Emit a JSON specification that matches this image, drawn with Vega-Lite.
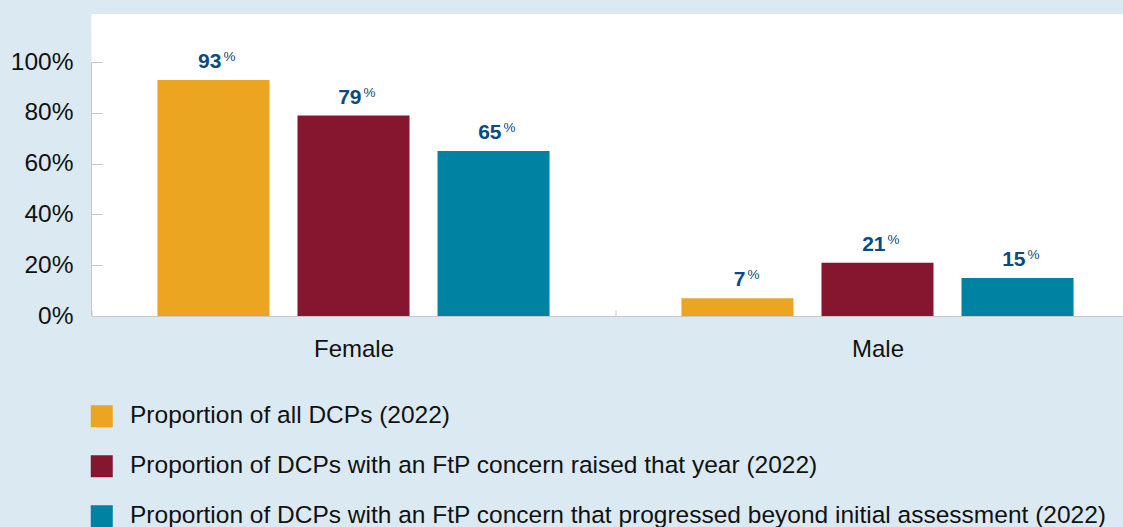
{
  "$schema": "https://vega.github.io/schema/vega-lite/v6.json",
  "width": 1048,
  "height": 302,
  "autosize": {"type": "none"},
  "padding": {"left": 91.5, "top": 14, "right": 0, "bottom": 211},
  "background": "#dbeaf2",
  "view": {"fill": "white", "stroke": null},
  "config": {"font": "Liberation Sans"},
  "data": {
    "values": [
      {"gender": "Female", "series": "Proportion of all DCPs (2022)", "value": 93},
      {"gender": "Female", "series": "Proportion of DCPs with an FtP concern raised that year (2022)", "value": 79},
      {"gender": "Female", "series": "Proportion of DCPs with an FtP concern that progressed beyond initial assessment (2022)", "value": 65},
      {"gender": "Male", "series": "Proportion of all DCPs (2022)", "value": 7},
      {"gender": "Male", "series": "Proportion of DCPs with an FtP concern raised that year (2022)", "value": 21},
      {"gender": "Male", "series": "Proportion of DCPs with an FtP concern that progressed beyond initial assessment (2022)", "value": 15}
    ]
  },
  "encoding": {
    "x": {
      "field": "gender", "type": "nominal",
      "scale": {"paddingInner": 0, "paddingOuter": 0},
      "axis": {
        "title": null, "labelAngle": 0, "labelFontSize": 24, "labelColor": "#111111",
        "domainColor": "#c8c8c8", "tickColor": "#c8c8c8", "tickBand": "extent",
        "tickSize": -6, "labelPadding": 27
      }
    }
  },
  "layer": [
    {
      "mark": {"type": "bar"},
      "encoding": {
        "xOffset": {"field": "series", "type": "nominal", "sort": null, "scale": {"paddingInner": 0.2, "paddingOuter": 0.471}},
        "y": {
          "field": "value", "type": "quantitative",
          "scale": {"domain": [0, 119], "nice": false},
          "axis": {
            "title": null, "values": [0, 20, 40, 60, 80, 100], "labelExpr": "datum.value + '%'",
            "labelFontSize": 24.5, "labelColor": "#111111", "domain": false, "grid": false,
            "tickColor": "#c8c8c8", "tickSize": -11, "labelPadding": 29.5
          }
        },
        "color": {
          "field": "series", "type": "nominal", "sort": null,
          "scale": {"range": ["#eba521", "#861630", "#0083a2"]},
          "legend": {
            "title": null, "orient": "none", "legendX": -2, "legendY": 390, "direction": "vertical",
            "symbolType": "square", "symbolSize": 484, "symbolStrokeWidth": 0, "symbolOpacity": 1,
            "labelFontSize": 24.5, "labelColor": "#111111", "labelLimit": 1200, "labelOffset": 16,
            "rowPadding": 25, "padding": 0
          }
        }
      }
    },
    {
      "mark": {"type": "text", "align": "right", "baseline": "alphabetic", "dx": 8, "dy": -12, "fontSize": 21, "fontWeight": "bold", "color": "#0d4a7f"},
      "encoding": {
        "xOffset": {"field": "series", "type": "nominal", "sort": null},
        "y": {"field": "value", "type": "quantitative"},
        "text": {"field": "value", "type": "quantitative"}
      }
    },
    {
      "mark": {"type": "text", "align": "left", "baseline": "alphabetic", "dx": 10, "dy": -19, "fontSize": 13.5, "fontWeight": 500, "color": "#0d4a7f", "text": "%"},
      "encoding": {
        "xOffset": {"field": "series", "type": "nominal", "sort": null},
        "y": {"field": "value", "type": "quantitative"}
      }
    },
    {
      "data": {"values": [{"a": 0, "b": 100}]},
      "mark": {"type": "rule", "color": "#c8c8c8", "strokeWidth": 1},
      "encoding": {
        "x": {"datum": "Female", "bandPosition": 0},
        "y": {"field": "a", "type": "quantitative"},
        "y2": {"field": "b"}
      }
    }
  ]
}
